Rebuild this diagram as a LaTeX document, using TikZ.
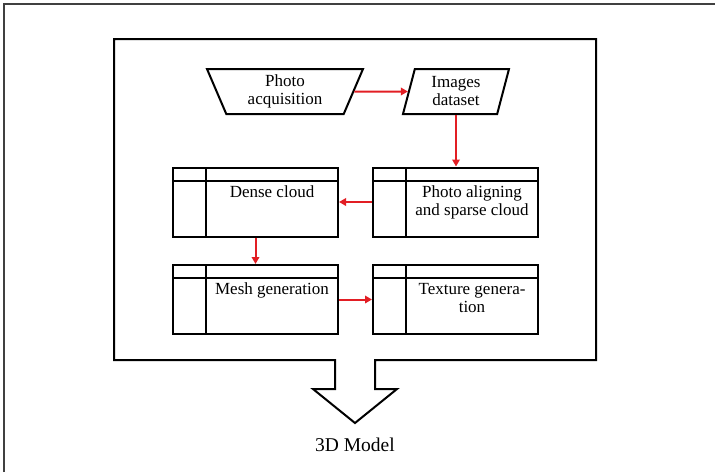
\documentclass[tikz,border=0pt]{standalone}
\usepackage{fontspec}
\setmainfont{Liberation Serif}
\usetikzlibrary{shapes.geometric,arrows.meta}
\definecolor{flowred}{RGB}{226,30,36}

\begin{document}
\begin{tikzpicture}[x=1pt,y=-1pt,
  boxtext/.style={font=\fontsize{17}{18}\selectfont,align=center,inner sep=0pt},
  stepbox/.style={draw,line width=2pt,minimum width=165pt,minimum height=69pt,inner sep=0pt,
    path picture={
      \draw[line width=2pt] ([yshift=-13pt]path picture bounding box.north west) -- ([yshift=-13pt]path picture bounding box.north east) ;
      \draw[line width=2pt] ([xshift=33pt]path picture bounding box.north west) -- ([xshift=33pt]path picture bounding box.south west) ;
    }},
  inputbox/.style={boxtext,draw,line width=2pt,shape=trapezium,trapezium stretches body,minimum height=45pt},
  flow/.style={flowred,line width=2pt,-{Triangle[length=7pt,width=7.5pt]}}]

\useasboundingbox (0,0) rectangle (715,472) ;

\draw[black!75,line width=2pt] (4,472) -- (4,4) -- (715,4) ;

\draw[line width=2pt] (335,360) -- (114,360) -- (114,39) -- (596,39) -- (596,360) -- (375,360)
  -- (375,389) -- (397,389) -- (355,423) coordinate (tip) -- (313,389) -- (335,389) -- cycle ;

\node[inputbox,trapezium angle=60,shape border rotate=180,minimum width=156pt] (acq) at (285,91.5) {Photo\\acquisition} ;
\node[inputbox,trapezium left angle=68,trapezium right angle=112,minimum width=106pt] (data) at (456,91.5) {Images\\dataset} ;

\node[stepbox] (align) at (455.5,202) {} ;
\node[stepbox] (dense) at (255.5,202) {} ;
\node[stepbox] (mesh) at (255.5,299.5) {} ;
\node[stepbox] (texture) at (455.5,299.5) {} ;

\node[boxtext,anchor=north] (aligntxt) at ([xshift=16.5pt,yshift=-19pt]align.north) {Photo aligning\\and sparse cloud} ;
\node[boxtext,anchor=north] (densetxt) at ([xshift=16.5pt,yshift=-19pt]dense.north) {Dense cloud} ;
\node[boxtext,anchor=north] (meshtxt) at ([xshift=16.5pt,yshift=-18pt]mesh.north) {Mesh generation} ;
\node[boxtext,anchor=north] (texturetxt) at ([xshift=16.5pt,yshift=-19pt]texture.north) {Texture genera-\\tion} ;

\draw[flow] (acq) -- (data) ;
\draw[flow] (data.south) -- (data.south |- align.north) ;
\draw[flow] (align) -- (dense) ;
\draw[flow] (dense) -- (mesh) ;
\draw[flow] (mesh) -- (texture) ;

\node[font=\fontsize{19.5}{20}\selectfont] (model) at (355,445) {3D Model} ;

\end{tikzpicture}
\end{document}
